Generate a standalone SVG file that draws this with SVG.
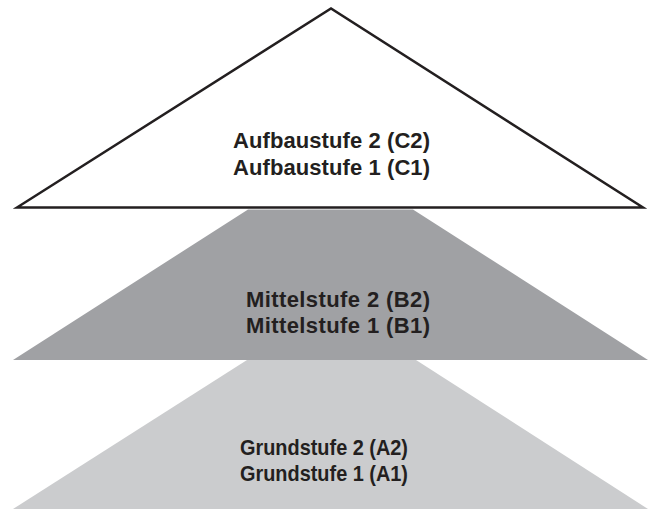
<svg xmlns="http://www.w3.org/2000/svg" width="653" height="511" viewBox="0 0 653 511">
<style>
.lbl{font-family:"Liberation Sans",Arial,sans-serif;font-weight:bold;fill:#231f20;text-anchor:middle;font-size:22px}
</style>
<rect width="653" height="511" fill="#ffffff"/>
<g id="level-a">
<polygon points="247,360 416,360 648,509 13,509" fill="#cbccce"/>
<text class="lbl" x="324" y="455" textLength="168" lengthAdjust="spacingAndGlyphs">Grundstufe 2 (A2)</text>
<text class="lbl" x="324" y="481" textLength="168" lengthAdjust="spacingAndGlyphs">Grundstufe 1 (A1)</text>
</g>
<g id="level-b">
<polygon points="248,209.5 413,209.5 648,360 13,360" fill="#a0a1a4"/>
<text class="lbl" x="338" y="307" textLength="184" lengthAdjust="spacing">Mittelstufe 2 (B2)</text>
<text class="lbl" x="338" y="333" textLength="184" lengthAdjust="spacing">Mittelstufe 1 (B1)</text>
</g>
<g id="level-c">
<polygon points="17,207.5 331,8.5 643,207.5" fill="#ffffff" stroke="#231f20" stroke-width="2.5" stroke-linejoin="miter"/>
<text class="lbl" x="331.5" y="148" textLength="197" lengthAdjust="spacing">Aufbaustufe 2 (C2)</text>
<text class="lbl" x="331.5" y="175" textLength="197" lengthAdjust="spacing">Aufbaustufe 1 (C1)</text>
</g>
<g id="connectors"></g>
</svg>
